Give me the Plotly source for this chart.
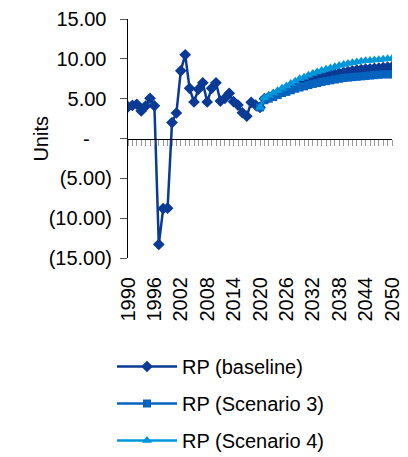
import plotly.graph_objects as go

hist_years = list(range(1990, 2051))
baseline = [
    3.98, 4.15, 4.3, 3.45, 4.07, 5.04, 4.1, -13.3, -8.8, -8.75,
    2.0, 3.2, 8.5, 10.5, 6.3, 4.58, 6.18, 7.0, 4.58, 6.3,
    7.0, 4.7, 5.04, 5.67, 4.62, 4.2, 3.23, 2.8, 4.54, 4.2,
    3.9, 5.0, 5.2, 5.45, 5.7, 5.95, 6.2, 6.45, 6.65, 6.85,
    7.05, 7.25, 7.4, 7.55, 7.7, 7.85, 8.0, 8.1, 8.2, 8.3,
    8.4, 8.5, 8.6, 8.65, 8.7, 8.75, 8.8, 8.85, 8.9, 8.95, 9.0,
]
scen_years = list(range(2020, 2051))
scenario3 = [
    3.9, 4.8, 5.0, 5.2, 5.45, 5.7, 5.85, 6.05, 6.25, 6.4,
    6.55, 6.7, 6.85, 6.95, 7.1, 7.2, 7.3, 7.4, 7.5, 7.6,
    7.65, 7.7, 7.75, 7.8, 7.85, 7.9, 7.95, 8.0, 8.05, 8.05, 8.05,
]
scenario4 = [
    3.9, 5.1, 5.4, 5.7, 6.0, 6.3, 6.6, 6.9, 7.2, 7.5,
    7.7, 7.95, 8.15, 8.35, 8.55, 8.7, 8.85, 9.0, 9.15, 9.3,
    9.4, 9.5, 9.6, 9.7, 9.75, 9.8, 9.85, 9.9, 9.95, 10.0, 10.05,
]
y_tickvals = [15, 10, 5, 0, -5, -10, -15]
y_ticktext = ["15.00\u00a0", "10.00\u00a0", "5.00\u00a0", "-\u00a0\u00a0\u00a0\u00a0",
              "(5.00)", "(10.00)", "(15.00)"]
x_tickvals = list(range(1990, 2051, 6))

C_BASE = "#0A3A94"
C_S3 = "#0562BD"
C_S4 = "#0096DC"
FONT = "Liberation Sans, Arial, sans-serif"

W, H = 400, 449  # page adds an 8px body margin

fig = go.Figure()
fig.add_trace(go.Scatter(
    x=hist_years, y=baseline, name="RP (baseline)", mode="lines+markers",
    line=dict(color=C_BASE, width=2.5),
    marker=dict(symbol="diamond", size=9, color=C_BASE),
    legendgroup="a",
))
fig.add_trace(go.Scatter(
    x=scen_years, y=scenario3, name="RP (Scenario 3)", mode="lines+markers",
    line=dict(color=C_S3, width=2.5),
    marker=dict(symbol="square", size=8, color=C_S3),
    legendgroup="b",
))
fig.add_trace(go.Scatter(
    x=scen_years, y=scenario4, name="RP (Scenario 4)", mode="lines+markers",
    line=dict(color=C_S4, width=2.5),
    marker=dict(symbol="triangle-up", size=9, color=C_S4),
    legendgroup="c",
))
# invisible helper trace so the zero-crossing axis is drawn
fig.add_trace(go.Scatter(
    x=hist_years, y=baseline, xaxis="x2", mode="lines", opacity=0,
    showlegend=False, hoverinfo="skip", line=dict(width=0),
))

fig.update_layout(
    width=W, height=H,
    margin=dict(l=120, r=16, t=11, b=199, autoexpand=False),
    paper_bgcolor="white", plot_bgcolor="white",
    font=dict(family=FONT, size=20, color="#000"),
    showlegend=True,
    legend=dict(
        orientation="v", xref="container", yref="container",
        x=104 / W, xanchor="left", y=1 - 339 / H, yanchor="top",
        font=dict(size=20), tracegroupgap=8, itemwidth=60,
        bgcolor="rgba(0,0,0,0)",
    ),
    xaxis=dict(
        range=[1990, 2050], tickvals=x_tickvals, tickangle=-90,
        showline=False, showgrid=False, zeroline=False,
        ticks="outside", ticklen=10, tickcolor="rgba(0,0,0,0)",
        tickfont=dict(size=20), automargin=False,
    ),
    xaxis2=dict(
        range=[1990, 2050], overlaying="x", anchor="free", position=0.5,
        side="bottom", showline=True, linecolor="#000", linewidth=1,
        ticks="outside", ticklen=6, tickcolor="#999", tickwidth=1,
        tick0=1990, dtick=1, showticklabels=False, showgrid=False, zeroline=False,
        automargin=False,
    ),
    yaxis=dict(
        range=[-15, 15], tickvals=y_tickvals, ticktext=y_ticktext,
        showline=True, linecolor="#000", linewidth=1,
        ticks="outside", ticklen=7, tickcolor="#555", ticklabelstandoff=4,
        showgrid=False, zeroline=False, tickfont=dict(size=20), automargin=False,
    ),
    annotations=[dict(
        text="Units", xref="paper", yref="paper", x=-0.333, y=0.5,
        xanchor="center", yanchor="middle",
        textangle=-90, showarrow=False, font=dict(size=20),
    )],
)

fig.write_html("out.html")
